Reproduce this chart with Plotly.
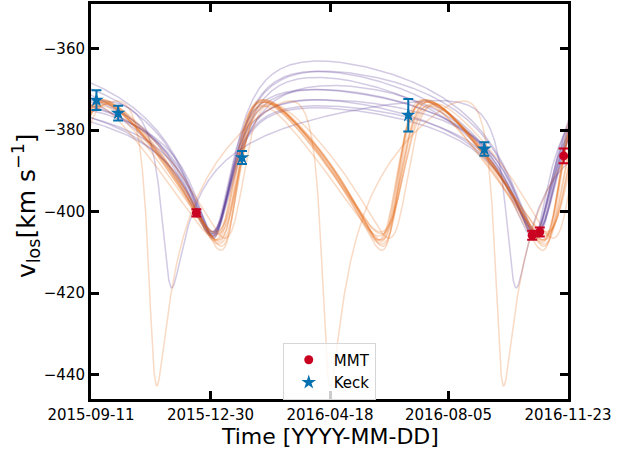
import numpy as np
import plotly.graph_objects as go

# ---------------- data ----------------
T0 = np.datetime64("2015-09-11")

# observations
mmt_dates = ["2015-12-17", "2016-10-21", "2016-10-28", "2016-11-19"]
mmt_v = [-400.3, -405.8, -405.0, -386.3]
mmt_err = [0.9, 1.1, 1.1, 1.8]

keck_dates = ["2015-09-16", "2015-10-06", "2016-01-28", "2016-06-29", "2016-09-07"]
keck_v = [-372.6, -375.8, -386.7, -376.3, -384.6]
keck_err = [2.4, 1.8, 1.6, 4.0, 1.65]

# orbit samples (family A, purple): period [d], ecc, omega [deg], K [km/s], v_min, T_peri [d since 2015-09-11]
pur_P = [296, 299, 294, 298, 295, 299, 296, 298, 297, 295, 298, 317]
pur_e = [0.55, 0.50, 0.60, 0.52, 0.58, 0.48, 0.56, 0.53, 0.57, 0.50, 0.54, 0.70]
pur_w = [205, 210, 200, 208, 203, 212, 206, 204, 207, 200, 209, 150]
pur_K = [18.0, 20.0, 17.0, 21.0, 16.0, 19.0, 15.5, 20.5, 17.5, 18.5, 16.5, 23.0]
pur_vmin = [-406.0, -405.5, -406.5, -405.0, -406.0, -405.0, -405.5, -406.5, -405.0, -406.0, -405.5, -418.7]
pur_tp = [117.0, 118.0, 116.0, 118.5, 116.5, 119.0, 117.0, 117.5, 117.0, 116.0, 118.0, 70.9]

# orbit samples (family B, orange)
ora_P = [150, 149, 151, 148.5, 152, 150.5, 149.5, 151, 148, 152.5, 150, 159.6]
ora_e = [0.35, 0.38, 0.32, 0.40, 0.30, 0.36, 0.34, 0.37, 0.42, 0.33, 0.39, 0.60]
ora_w = [250, 245, 255, 248, 258, 242, 252, 247, 250, 260, 244, 140]
ora_K = [17.0, 17.5, 16.0, 18.0, 15.5, 17.0, 17.5, 16.5, 18.5, 16.0, 17.0, 35.0]
ora_vmin = [-407.0, -407.5, -405.5, -408.5, -405.0, -407.0, -408.0, -406.5, -409.5, -406.0, -407.0, -442.8]
ora_tp = [282.0, 279.0, 285.0, 281.0, 286.0, 277.0, 283.0, 288.0, 280.0, 284.0, 278.0, 56.8]

x_ticks = ["2015-09-11", "2015-12-30", "2016-04-18", "2016-08-05", "2016-11-23"]
y_ticks = [-440, -420, -400, -380, -360]


# ---------------- model ----------------
def rv_curve(days, P, e, w_deg, K, vmin, tp):
    M = 2 * np.pi * (days - tp) / P
    M = np.mod(M + np.pi, 2 * np.pi) - np.pi
    E = M + e * np.sin(M)
    for _ in range(60):
        E = E - (E - e * np.sin(E) - M) / (1 - e * np.cos(E))
    nu = 2 * np.arctan2(np.sqrt(1 + e) * np.sin(E / 2), np.sqrt(1 - e) * np.cos(E / 2))
    w = np.radians(w_deg)
    gamma = vmin + K * (1 - e * np.cos(w))
    return gamma + K * (np.cos(nu + w) + e * np.cos(w))


days = np.arange(-3, 443, 0.25)
tdates = T0 + (days * 86400).astype("timedelta64[s]")

fig = go.Figure()

PUR = "rgba(94,60,153,0.27)"
ORA = "rgba(230,97,1,0.23)"

for i in range(len(pur_P)):
    fig.add_trace(go.Scatter(
        x=tdates, y=rv_curve(days, pur_P[i], pur_e[i], pur_w[i], pur_K[i], pur_vmin[i], pur_tp[i]),
        mode="lines", line=dict(color=PUR, width=1.5), showlegend=False, hoverinfo="skip"))

for i in range(len(ora_P)):
    fig.add_trace(go.Scatter(
        x=tdates, y=rv_curve(days, ora_P[i], ora_e[i], ora_w[i], ora_K[i], ora_vmin[i], ora_tp[i]),
        mode="lines", line=dict(color=ORA, width=1.5), showlegend=False, hoverinfo="skip"))

fig.add_trace(go.Scatter(
    x=mmt_dates, y=mmt_v, mode="markers", name="MMT",
    marker=dict(symbol="circle", size=9, color="#ca0020"),
    error_y=dict(type="data", array=mmt_err, color="#ca0020", thickness=2, width=5)))

fig.add_trace(go.Scatter(
    x=keck_dates, y=keck_v, mode="markers", name="Keck",
    marker=dict(symbol="star", size=11, color="#0571b0"),
    error_y=dict(type="data", array=keck_err, color="#0571b0", thickness=2, width=5)))

axis_common = dict(
    showline=True, linecolor="black", linewidth=3, mirror="allticks",
    ticks="inside", ticklen=8, tickwidth=2.5, tickcolor="black",
    showgrid=False, zeroline=False, automargin=False,
    tickfont=dict(family="DejaVu Sans", size=15, color="black"),
)

fig.update_xaxes(
    type="date", range=[x_ticks[0], x_ticks[-1]],
    tickvals=x_ticks, ticktext=x_ticks, **axis_common)

fig.update_yaxes(range=[-446, -349], tickvals=y_ticks, **axis_common)

fig.add_annotation(
    text="Time [YYYY-MM-DD]", xref="paper", yref="paper", x=0.5, y=-0.094,
    xanchor="center", yanchor="middle", showarrow=False,
    font=dict(family="DejaVu Sans", size=22, color="black"))

fig.add_annotation(
    text="v<sub>los</sub>[km s<sup>−1</sup>]", xref="paper", yref="paper", x=-0.135, y=0.49,
    xanchor="center", yanchor="middle", textangle=-90, showarrow=False,
    font=dict(family="DejaVu Sans", size=25, color="black"))

fig.update_layout(
    width=630, height=452,
    margin=dict(l=91, r=62, t=4, b=53),
    paper_bgcolor="white", plot_bgcolor="white",
    font=dict(family="DejaVu Sans", color="black"),
    legend=dict(x=0.402, y=0.143, xanchor="left", yanchor="top",
                bgcolor="rgba(255,255,255,0.8)", bordercolor="#d6d6d6", borderwidth=1,
                font=dict(family="DejaVu Sans", size=15, color="black"),
                itemwidth=40, tracegroupgap=0),
)

fig.write_html(
    "out.html",
    config={"displayModeBar": False},
    post_script="document.body.style.margin='0';document.body.style.padding='0';",
)
